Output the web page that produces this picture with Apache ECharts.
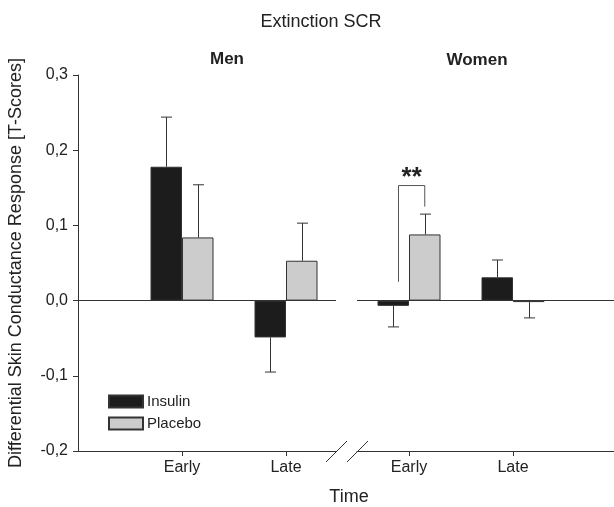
<!DOCTYPE html>
<html>
<head>
<meta charset="utf-8">
<script src="https://cdn.jsdelivr.net/npm/echarts@6/dist/echarts.min.js"></script>
<style>
html, body { margin: 0; padding: 0; background: #fff; }
#chart { width: 614px; height: 507px; }
</style>
</head>
<body>
<div id="chart"></div>
<script>
// data
const categories = ['Early', 'Late'];
const catPos = [1, 2];
const menInsulin = [0.178, -0.049];
const menInsulinErr = [0.066, 0.046];
const menPlacebo = [0.084, 0.053];
const menPlaceboErr = [0.070, 0.050];
const womenInsulin = [-0.007, 0.031];
const womenInsulinErr = [0.028, 0.023];
const womenPlacebo = [0.088, -0.002];
const womenPlaceboErr = [0.027, 0.021];
const yMin = -0.2, yMax = 0.3, yStep = 0.1;

const font = "'Liberation Sans', Arial, sans-serif";
const ink = '#333';
const barW = 31.5;

let chart = echarts.init(document.getElementById('chart'));

function pairs(values) {
  return values.map((v, i) => [catPos[i], v]);
}
function errData(values, errs, side) {
  return values.map((v, i) => [catPos[i], v, errs[i], side]);
}

// error bar drawn from the end of the bar, away from zero
function renderErr(params, api) {
  const x = api.value(0), v = api.value(1), e = api.value(2), side = api.value(3);
  const end = v >= 0 ? v + e : v - e;
  const p0 = api.coord([x, v]);
  const p1 = api.coord([x, end]);
  const cx = Math.round(p0[0] + side * barW / 2) + 0.5;
  return {
    type: 'group',
    children: [
      { type: 'line', shape: { x1: cx, y1: p0[1], x2: cx, y2: p1[1] }, style: { stroke: ink, lineWidth: 1 } },
      { type: 'line', shape: { x1: cx - 5.5, y1: p1[1], x2: cx + 5.5, y2: p1[1] }, style: { stroke: ink, lineWidth: 1 } }
    ]
  };
}

// significance bracket between insulin and placebo, women early
function renderSig(params, api) {
  const base = api.coord([catPos[0], 0]);
  const xl = base[0] - 10.5;
  const xr = base[0] + barW / 2;
  const yl = api.coord([catPos[0], 0.025])[1];
  const yt = api.coord([catPos[0], 0.153])[1];
  const yr = api.coord([catPos[0], 0.125])[1];
  return {
    type: 'group',
    children: [
      { type: 'polyline', shape: { points: [[xl, yl], [xl, yt], [xr, yt], [xr, yr]] },
        style: { stroke: '#555', lineWidth: 1, fill: null } },
      { type: 'text', style: { text: '**', x: (xl + xr) / 2, y: yt - 8, align: 'center', verticalAlign: 'middle',
        font: 'bold 26px ' + font, fill: '#222' } }
    ]
  };
}

function xAxisFor(gridIndex, min, max) {
  return {
    type: 'value',
    gridIndex: gridIndex,
    min: min,
    max: max,
    axisLine: { onZero: false, lineStyle: { color: ink, width: 1 } },
    axisTick: { customValues: catPos, length: 5, lineStyle: { color: ink } },
    axisLabel: {
      customValues: catPos,
      margin: 9,
      color: '#222',
      fontFamily: font,
      fontSize: 16,
      formatter: v => categories[catPos.indexOf(v)]
    },
    splitLine: { show: false }
  };
}

const zeroLine = {
  silent: true,
  symbol: 'none',
  label: { show: false },
  lineStyle: { color: ink, width: 1, type: 'solid' },
  data: [{ yAxis: 0 }]
};

const insulinStyle = { color: '#1c1c1c', borderColor: ink, borderWidth: 1 };
const placeboStyle = { color: '#cccccc', borderColor: ink, borderWidth: 1 };

let option = {
  animation: false,
  backgroundColor: '#fff',
  textStyle: { fontFamily: font },
  title: {
    text: 'Extinction SCR',
    left: 316,
    top: 8,
    textAlign: 'center',
    textStyle: { fontFamily: font, fontSize: 18, fontWeight: 'normal', color: '#222' }
  },
  legend: {
    data: ['Insulin', 'Placebo'],
    orient: 'vertical',
    left: 103,
    top: 389,
    icon: 'rect',
    itemWidth: 34,
    itemHeight: 12,
    itemGap: 7,
    textStyle: { fontFamily: font, fontSize: 15, color: '#222', padding: [0, 0, 0, -1] }
  },
  grid: [
    { left: 78, right: 278, top: 75, bottom: 56 },
    { left: 357, right: 0, top: 75, bottom: 56 }
  ],
  xAxis: [
    xAxisFor(0, 0, 258 / 104),
    xAxisFor(1, 0.5, 0.5 + 257 / 104)
  ],
  yAxis: [
    {
      type: 'value',
      gridIndex: 0,
      min: yMin,
      max: yMax,
      interval: yStep,
      name: 'Differential Skin Conductance Response [T-Scores]',
      nameLocation: 'middle',
      nameGap: 53,
      nameTextStyle: { fontFamily: font, fontSize: 18, color: '#222' },
      axisLine: { show: true, lineStyle: { color: ink, width: 1 } },
      axisTick: { show: true, length: 5, lineStyle: { color: ink } },
      axisLabel: {
        margin: 10,
        color: '#222',
        fontFamily: font,
        fontSize: 16,
        formatter: v => v.toFixed(1).replace('.', ',')
      },
      splitLine: { show: false }
    },
    { type: 'value', gridIndex: 1, min: yMin, max: yMax, interval: yStep, show: false, splitLine: { show: false } }
  ],
  series: [
    {
      name: 'Insulin', type: 'bar', xAxisIndex: 0, yAxisIndex: 0,
      barWidth: barW, barGap: '0%', itemStyle: insulinStyle,
      data: pairs(menInsulin), markLine: zeroLine
    },
    {
      name: 'Placebo', type: 'bar', xAxisIndex: 0, yAxisIndex: 0,
      barWidth: barW, barGap: '0%', itemStyle: placeboStyle,
      data: pairs(menPlacebo)
    },
    {
      name: 'Insulin', type: 'bar', xAxisIndex: 1, yAxisIndex: 1,
      barWidth: barW, barGap: '0%', itemStyle: insulinStyle,
      data: pairs(womenInsulin), markLine: zeroLine
    },
    {
      name: 'Placebo', type: 'bar', xAxisIndex: 1, yAxisIndex: 1,
      barWidth: barW, barGap: '0%', itemStyle: placeboStyle,
      data: pairs(womenPlacebo)
    },
    {
      type: 'custom', xAxisIndex: 0, yAxisIndex: 0, renderItem: renderErr, silent: true,
      encode: { x: 0, y: 1 },
      data: errData(menInsulin, menInsulinErr, -1).concat(errData(menPlacebo, menPlaceboErr, 1))
    },
    {
      type: 'custom', xAxisIndex: 1, yAxisIndex: 1, renderItem: renderErr, silent: true,
      encode: { x: 0, y: 1 },
      data: errData(womenInsulin, womenInsulinErr, -1).concat(errData(womenPlacebo, womenPlaceboErr, 1))
    },
    {
      type: 'custom', xAxisIndex: 1, yAxisIndex: 1, renderItem: renderSig, silent: true,
      encode: { x: 0, y: 1 },
      data: [[catPos[0], 0]]
    }
  ],
  graphic: [
    { type: 'text', style: { text: 'Men', x: 227, y: 59, align: 'center', verticalAlign: 'middle', font: 'bold 17px ' + font, fill: '#222' } },
    { type: 'text', style: { text: 'Women', x: 477, y: 60, align: 'center', verticalAlign: 'middle', font: 'bold 17px ' + font, fill: '#222' } },
    { type: 'text', style: { text: 'Time', x: 349, y: 497, align: 'center', verticalAlign: 'middle', font: '18px ' + font, fill: '#222' } },
    // axis break marks
    { type: 'line', shape: { x1: 326, y1: 462, x2: 347, y2: 441 }, style: { stroke: ink, lineWidth: 1 } },
    { type: 'line', shape: { x1: 347, y1: 462, x2: 368, y2: 441 }, style: { stroke: ink, lineWidth: 1 } }
  ]
};

chart.setOption(option);
</script>
</body>
</html>
